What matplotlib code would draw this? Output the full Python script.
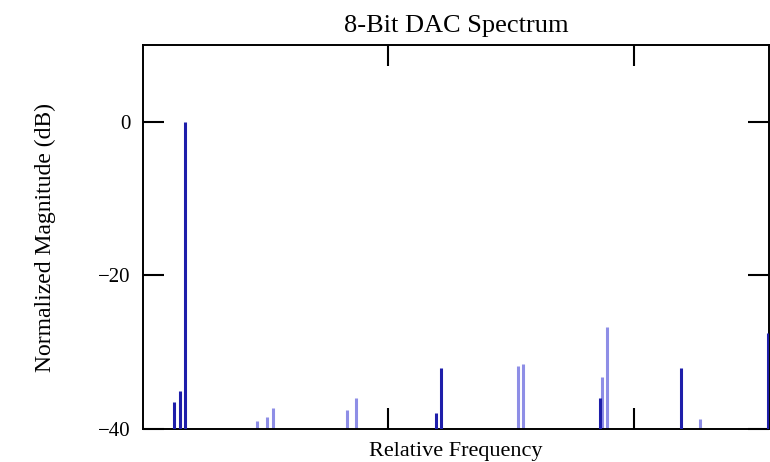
import matplotlib
matplotlib.use("Agg")
import matplotlib.pyplot as plt

# spectral lines (x in tick units, y in dB)
strong_freq = [0.127, 0.151, 0.171, 1.192, 1.216, 1.861, 2.192, 2.546]
strong_db = [-36.5, -35.0, 0.0, -37.9, -32.0, -36.0, -32.0, -27.5]

weak_freq = [0.465, 0.506, 0.531, 0.833, 0.869, 1.527, 1.547, 1.869, 1.890, 2.269]
weak_db = [-39.0, -38.4, -37.3, -37.5, -36.0, -31.8, -31.6, -33.2, -26.7, -38.7]

y_ticks = [0, -20, -40]
x_ticks = [1, 2]
floor_db = -40

plt.rcParams['font.family'] = ['Liberation Serif', 'DejaVu Serif']

fig = plt.figure(figsize=(7.7, 4.62), dpi=100)
ax = fig.add_axes([0.1857, 0.0714, 0.8130, 0.8312])

ax.vlines(weak_freq, floor_db, weak_db, colors='#8e8ee6', linewidth=2.2)
# drawn above the frame so the line on the right edge stays visible
ax.vlines(strong_freq, floor_db, strong_db, colors='#1e1eaa', linewidth=2.2, zorder=3)

ax.set_xlim(0, 2.551)
ax.set_ylim(-40, 10)
ax.set_yticks(y_ticks)
ax.set_yticklabels(['0', '\u221220', '\u221240'])
ax.set_xticks(x_ticks)
ax.set_xticklabels([])

ax.tick_params(direction='in', length=15, width=1.5, top=True, right=True,
               labelsize=15, pad=9)
for s in ax.spines.values():
    s.set_linewidth(1.4)

ax.set_title('8-Bit DAC Spectrum', fontsize=19, pad=9)
ax.set_xlabel('Relative Frequency', fontsize=16, labelpad=0)
ax.set_ylabel('Normalized Magnitude (dB)', fontsize=17, labelpad=30)

fig.savefig('out.png', dpi=100)
